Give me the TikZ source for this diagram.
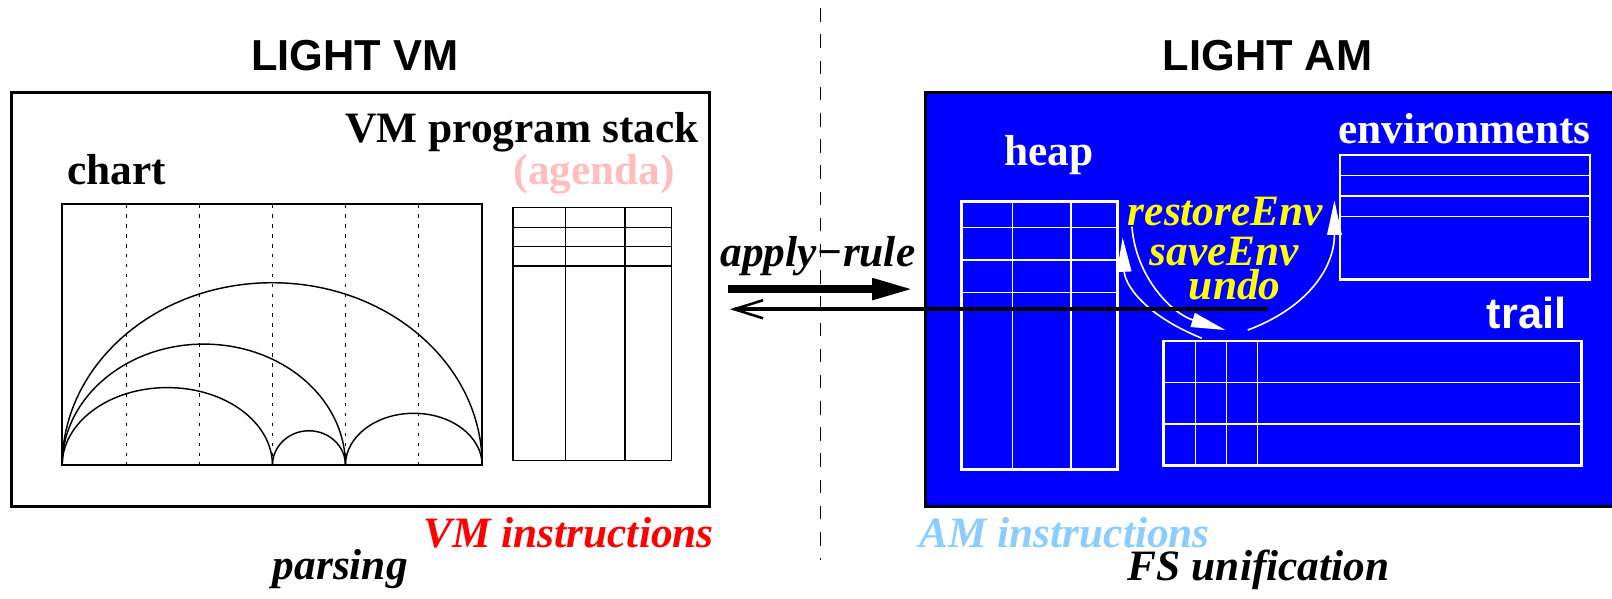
\documentclass[tikz,border=0pt]{standalone}
\usepackage{fontspec}
\setmainfont{Liberation Serif}
\setsansfont{Liberation Sans}
\usetikzlibrary{arrows.meta}

\definecolor{blu}{RGB}{0,0,255}
\definecolor{rosa}{RGB}{255,190,190}
\definecolor{celeste}{RGB}{140,205,255}
\definecolor{giallo}{RGB}{255,255,0}

\begin{document}
\begin{tikzpicture}[x=0.02cm, y=-0.02cm,
    titolo/.style={font=\sffamily\bfseries\fontsize{24}{28}\selectfont, inner sep=0pt},
    etichetta/.style={font=\bfseries\fontsize{24}{28}\selectfont, inner sep=0pt},
    corsivo/.style={font=\bfseries\itshape\fontsize{24}{28}\selectfont, inner sep=0pt},
    nera/.style={line width=0.8pt},
    bianca/.style={draw=white, line width=0.8pt},
    freccia/.style={white, line width=0.9pt, -{Triangle[length=19pt,width=8pt]}}]

\useasboundingbox (0,0) rectangle (1568,582);
\clip (0,0) rectangle (1568,582);

% Linea tratteggiata di separazione
\draw[line width=0.9pt, dash pattern=on 7.5pt off 7pt] (798,8) -- (798,545);

% Titoli
\node[titolo, anchor=base] (tvm) at (345,69) {LIGHT VM};
\node[titolo, anchor=base] (tam) at (1233,69) {LIGHT AM};

% --- Macchina virtuale (sinistra) ---
\draw[line width=1.7pt] (11,90) rectangle (690,493);
\node[etichetta, anchor=base east] (stack) at (680,139) {VM program stack};
\node[etichetta, anchor=base east, text=rosa] (agenda) at (657,179) {(agenda)};
\node[etichetta, anchor=base west] (chart) at (65,179) {chart};

% Chart con gli archi
\draw[nera] (60.5,198.6) rectangle (469,452.5);
\foreach \x in {123,194,265,336,407} {
    \draw[line width=0.8pt, dash pattern=on 2pt off 3.5pt] (\x,198.6) -- (\x,452.5);
}
\foreach \a/\rx/\ry in {60.5/204.25/177.5, 60.5/137.75/117.8, 60.5/102.25/75.5, 265/35.5/33.5, 336/66.5/50.5} {
    \draw[nera] (\a,452.5) arc[start angle=180, end angle=360, x radius=\rx, y radius=\ry];
}

% Stack del programma
\draw[nera] (499,202) rectangle (653,448);
\foreach \x in {550,608} \draw[nera] (\x,202) -- (\x,448);
\foreach \y in {221.5,240,258.7} \draw[nera] (499,\y) -- (653,\y);

% --- Macchina astratta (destra) ---
\draw[line width=1.7pt, fill=blu] (900,90) rectangle (1620,493);
\node[etichetta, anchor=base, text=white] (heap) at (1020.5,160.5) {heap};
\node[etichetta, anchor=base, text=white] (env) at (1424.5,139.4) {environments};
\node[titolo, anchor=base, text=white] (trail) at (1485,320) {trail};

% Heap
\draw[bianca, line width=1.5pt] (935,196) rectangle (1086.7,456.5);
\foreach \x in {984.6,1041.7} \draw[bianca] (\x,196) -- (\x,456.5);
\foreach \y in {221.5,253,284.7} \draw[bianca] (935,\y) -- (1086.7,\y);

% Ambienti
\draw[bianca, line width=1.5pt] (1303.5,150.8) rectangle (1546.7,271.7);
\foreach \y in {170.9,190.6,210.8} \draw[bianca] (1303.5,\y) -- (1546.7,\y);

% Trail
\draw[bianca, line width=1.5pt] (1132,331.7) rectangle (1538.6,453);
\foreach \x in {1163,1193,1223} \draw[bianca] (\x,331.7) -- (\x,453);
\foreach \y in {372.2,412.4} \draw[bianca] (1132,\y) -- (1538.6,\y);

% Operazioni sull'ambiente
\node[corsivo, anchor=base, text=giallo] (restore) at (1192,219.8) {restoreEnv};
\node[corsivo, anchor=base, text=giallo] (save) at (1191,258.5) {saveEnv};
\node[corsivo, anchor=base, text=giallo] (undo) at (1201,291.5) {undo};

\coordinate (t1) at (1169,329);
\coordinate (h1) at (1092,231);
\coordinate (r1) at (1101,220.5);
\coordinate (t2) at (1192,321);
\coordinate (t3) at (1213.7,321);
\coordinate (e1) at (1298,195);
\draw[freccia] (t1) .. controls (1110,305) and (1094,275) .. (h1);
\draw[freccia] (r1) .. controls (1105,270) and (1140,305) .. (t2);
\draw[freccia] (t3) .. controls (1270,300) and (1298,262) .. (e1);

% --- Frecce centrali ---
\node[corsivo, anchor=base] (apply) at (795.5,259.7) {apply−rule};
\coordinate (a1) at (708,281.2);
\coordinate (a2) at (888.8,281.2);
\coordinate (b1) at (1233.5,300.8);
\coordinate (b2) at (710,300.8);
\draw[line width=4.5pt, -{Triangle[length=23pt,width=11pt]}] (a1) -- (a2);
\draw[line width=2.3pt, -{Straight Barb[length=16pt,width=10pt,line width=1.4pt]}] (b1) -- (b2);

% Istruzioni
\node[corsivo, anchor=base east, text=red] (vmi) at (694.6,532.4) {VM instructions};
\node[corsivo, anchor=base west, text=celeste] (ami) at (894,532.4) {AM instructions};
\node[corsivo, anchor=base west] (pars) at (265,563.4) {parsing};
\node[corsivo, anchor=base east] (fsu) at (1351.8,564.8) {FS unification};

\end{tikzpicture}
\end{document}
